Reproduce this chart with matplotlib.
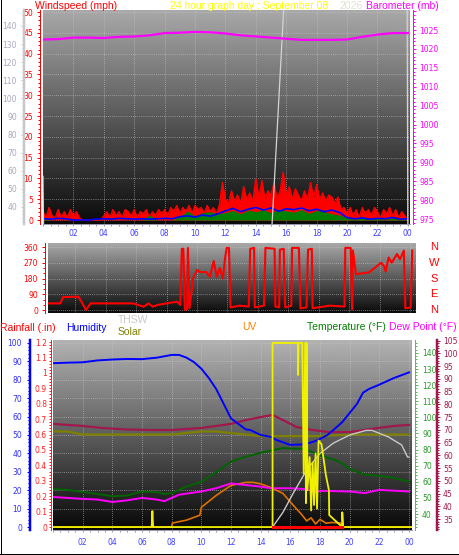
import numpy as np
import matplotlib
matplotlib.use("Agg")
import matplotlib.pyplot as plt
from matplotlib.lines import Line2D

# ---- data ------------------------------------------------------------------

hour_ticks = [2, 4, 6, 8, 10, 12, 14, 16, 18, 20, 22, 24]
hour_labels = ["02", "04", "06", "08", "10", "12", "14", "16", "18", "20", "22", "00"]

# windspeed (mph), one sample every 0.2 h
wind_hi = [2, 0.5, 3, 1, 0.5, 2.5, 0.5, 2, 0.5, 2.5, 1, 2, 0.5,
           0, 0, 0, 0, 0, 0, 0,
           1, 2, 0.5, 2.5, 1, 2, 0.5, 2.5, 2, 1, 2.5, 0.5, 2, 1.5, 2.5, 0.5, 2, 1, 2.5, 1.5,
           2.5, 1, 3, 2, 3.5, 1.5, 3, 2, 3.5, 1.5, 3.5, 2.5, 3, 1.5, 3.5, 2, 3, 1.5, 3.5, 9,
           5, 4, 7, 4.5, 6, 4, 8, 5, 6.5, 4.5, 10, 5.5, 9.5, 5, 7, 6, 9, 5, 7, 11.5,
           6, 8, 5, 7.5, 6, 4.5, 7, 5, 9, 5.5, 8.5, 5, 6.5, 4.5, 6, 5.5, 4, 5.5,
           2.5, 3, 1.5, 3, 1, 2.5, 0.5, 3, 1.5, 2.5, 1, 3, 2, 0.5, 2.5, 1.5, 3, 1, 2.5, 0.5, 2, 1, 0]
# average wind and the green band, one sample every 0.5 h
wind_avg = [0.3, 0.2, 0.4, 0.3, 0, 0, 0, 0.2, 0.3, 0.2, 0.4, 0.3, 0.2, 0.3, 0.2, 0.3, 0.4, 0.3,
            0.8, 1.0, 0.7, 1.2, 0.9, 1.5,
            2.2, 2.8, 2.0, 2.6, 3.0, 2.4, 2.9, 2.1, 2.7, 2.5, 2.9, 2.2, 2.6, 2.0, 2.4, 1.8,
            0.6, 0.3, 0.5, 0.2, 0.4, 0.3, 0.6, 0.2, 0.3]
wind_low = [0.3, 0, 0, 0, 0, 0, 0, 0, 0, 0, 0, 0, 0, 0, 1.2, 0, 0, 0,
            0.8, 2.2, 1.0, 1.8, 2.0, 1.5,
            1.8, 2.3, 1.5, 2.4, 2.0, 2.5, 1.7, 2.6, 2.2, 1.9, 2.5, 1.6, 2.3, 2.0, 1.5, 1.2,
            0.5, 0.2, 0.6, 0.3, 0.4, 0.2, 0.5, 0.3, 0.2]

# light grey trace on the outer left scale
grey_t = [0, 0.05, 15.0, 15.9, 23.95, 24.0]
grey_v = [57, 20, 20, 160, 160, 20]

# barometer (mb), hourly
baro = [1022.5, 1022.6, 1023.0, 1023.0, 1022.9, 1023.2, 1023.3, 1023.6, 1024.2, 1024.3,
        1024.5, 1024.4, 1024.1, 1023.6, 1023.3, 1023.0, 1022.7, 1022.4, 1022.4, 1022.4,
        1022.5, 1023.2, 1023.8, 1024.2, 1024.2]
baro_ticks = [975, 980, 985, 990, 995, 1000, 1005, 1010, 1015, 1020, 1025, 1030]
baro_labels = ["975", "980", "985", "990", "995", "1000", "1005", "1010", "1015", "1020",
               "1025", ""]

# wind direction (degrees)
dir_t = [0.2, 1.0, 1.2, 2.2, 2.4, 2.7, 3.0, 5.8, 6.5, 6.8, 7.1, 7.4, 8.0, 8.7, 8.9, 9.0, 9.1,
         9.2, 9.35, 9.4, 9.5, 9.75, 10.0, 10.2, 10.6, 10.85, 11.1, 11.3, 11.5, 11.7, 11.85,
         11.95, 12.1, 12.2, 12.8, 13.4, 13.5, 13.75, 13.8, 14.4, 14.5, 15.1, 15.15, 15.4,
         15.45, 15.7, 15.8, 16.2, 16.25, 16.7, 16.8, 17.2, 17.3, 17.55, 17.6, 18.7, 19.7,
         19.75, 20.1, 20.2, 20.25, 20.45, 21.3, 21.75, 22.1, 22.3, 22.4, 22.6, 22.8, 23.15,
         23.35, 23.6, 23.7, 24.05, 24.15]
dir_v = [38, 38, 74, 76, 48, 0, 38, 38, 19, 38, 19, 29, 38, 48, 29, 350, 350,
         0, 5, 355, 10, 183, 229, 217, 217, 190, 280, 190, 240, 180, 300,
         355, 355, 15, 25, 20, 350, 355, 15, 25, 355, 350, 20, 15,
         345, 350, 15, 25, 355, 355, 10, 15, 345, 350, 10, 25, 20,
         355, 355, 5, 340, 205, 215, 245, 270, 250, 220, 300, 270, 320,
         290, 340, 10, 15, 340]

# humidity (%)
hum_t = [0, 1, 2, 3, 4, 5, 6, 7, 8, 8.5, 9, 9.5, 10, 10.5, 11, 11.5, 12, 13, 13.3, 14, 14.7,
         15, 16, 17, 17.8, 18.5, 18.9, 19.5, 20, 20.5, 20.9, 21.3, 21.9, 23, 24]
hum_v = [89, 89.3, 89.5, 90.5, 91, 91.3, 91.2, 92, 93.5, 93.5, 92, 89.6, 86, 81, 75, 67, 59,
         53, 52.7, 50, 49, 47.5, 44.6, 45, 47, 50, 52.7, 57, 62, 67, 73, 75, 77, 81, 84]

# unlabelled yellow trace (humidity scale)
rad_t = [0, 6.65, 6.7, 6.75, 14.8, 14.8, 16.5, 16.52, 16.55, 16.8, 16.9, 17.0, 17.05, 17.1,
         17.15, 17.3, 17.4, 17.5, 17.6, 17.7, 17.8, 17.9, 18.1, 18.4, 18.6, 18.62, 19.5,
         19.5, 19.55, 24.2]
rad_v = [0, 0, 8.7, 0, 0, 100, 100, 82.6, 100, 100, 29, 100, 13, 100, 20, 38, 9, 35, 12, 40,
         10, 47, 45, 28, 20, 6.5, 0, 8, 0, 0]

# THSW (humidity scale)
thsw_t = [14.8, 15.5, 16.2, 17.1, 18.0, 18.9, 20.0, 21.1, 21.5, 22.6, 23.5, 23.9, 24.0]
thsw_v = [0, 8, 18.5, 31, 40, 45.6, 50, 52.5, 52.5, 49, 44.6, 38, 38]

# temperature and dew point (deg F, green scale)
temp_t = [0, 1, 2, 3, 4, 5, 6, 7, 7.5, 8, 9, 10, 11, 12, 13, 14, 15, 15.5, 16, 17, 17.6, 18,
          19, 19.4, 20, 20.7, 21, 22, 23, 24]
temp_v = [55.6, 55, 53.7, 52.5, 51, 51.5, 54, 53.5, 52.5, 53, 57, 60, 66, 72.5, 75.6, 78, 80,
          81, 80.6, 80.5, 78, 76.5, 73.5, 72, 68, 65.6, 64.5, 63.7, 62.5, 60]
dew_t = [0, 2, 3, 4, 5, 6, 7, 7.5, 8.5, 10, 11, 12, 13, 14, 14.7, 16, 17, 17.8, 18, 20, 21,
         22, 23, 24]
dew_v = [50.6, 49.4, 49, 47.5, 48.5, 50, 49, 48, 52, 54, 56, 59, 58, 57, 56, 56, 55.5, 53.7,
         54.4, 54, 53, 55, 54.5, 54]

# maroon trace (outer right scale)
heat_t = [0, 1, 2, 3.3, 5, 6.7, 8, 10, 12, 13, 14, 14.8, 15.5, 16.4, 17.5, 18.6, 20, 21,
          21.9, 23, 24]
heat_v = [72.3, 71.9, 71.5, 70.7, 70.1, 69.9, 69.9, 70.7, 72.3, 73.8, 75.0, 75.8, 73.8,
          71.1, 69.9, 69.1, 69.1, 69.9, 70.7, 71.5, 71.9]

# solar (olive) and UV (orange), rainfall scale
solar_t = [0, 1, 2, 4, 6, 8, 9, 10, 11, 12, 14, 16, 18, 20, 22, 24]
solar_v = [0.62, 0.62, 0.60, 0.60, 0.60, 0.60, 0.61, 0.62, 0.62, 0.61, 0.59, 0.59, 0.59,
           0.60, 0.60, 0.60]
uv_t = [8, 8.05, 9, 9.9, 10, 11, 12, 13, 13.5, 14, 14.7, 15.5, 16.2, 16.8, 17.1, 17.4, 17.7,
        18, 18.4, 18.8, 19.4, 19.5]
uv_v = [0, 0.026, 0.045, 0.077, 0.128, 0.205, 0.27, 0.29, 0.29, 0.28, 0.256, 0.218, 0.141,
        0.077, 0.04, 0.06, 0.02, 0.05, 0.025, 0.03, 0.026, 0]
rain_t = [14.8, 19.5]
rain_v = [0, 0]

# ---- layout helpers ---------------------------------------------------------

W, H = 459, 555
PT = 0.72  # one pixel in points at 100 dpi


def box(l, t, r, b):
    return [l / W, 1 - b / H, (r - l) / W, (b - t) / H]


def backdrop(ax, top, bottom):
    shade = np.linspace(top, bottom, 200).reshape(-1, 1)
    ax.imshow(shade, cmap="gray", vmin=0, vmax=1, aspect="auto",
              extent=[0, 1, 0, 1], transform=ax.transAxes, zorder=0)


def strip(ax):
    for s in ax.spines.values():
        s.set_visible(False)
    ax.tick_params(which="both", left=False, right=False, top=False, bottom=False,
                   labelleft=False, labelright=False, labelbottom=False, labeltop=False)


def yscale(ax, side, offset, color, lw, major, minor, labels=None, labelcolor=None,
           pad=3, tick=3):
    ax.yaxis.set_ticks_position(side)
    sp = ax.spines[side]
    sp.set_visible(True)
    sp.set_position(("outward", offset * PT))
    sp.set_color(color)
    sp.set_linewidth(lw * PT)
    ax.set_yticks(major)
    ax.set_yticks(minor, minor=True)
    if labels is not None:
        ax.set_yticklabels(labels)
    on = {side: True, "label" + side: True}
    ax.tick_params(axis="y", which="major", color=color, labelcolor=labelcolor or color,
                   length=tick * PT, width=PT, labelsize=5.5, pad=pad * PT, **on)
    ax.tick_params(axis="y", which="minor", color=color, length=2 * PT, width=PT,
                   **{side: True})


def xscale(ax, pad, labels=True):
    ax.set_xticks(hour_ticks)
    ax.set_xticks(np.arange(0, 24.5, 0.5), minor=True)
    sp = ax.spines["bottom"]
    sp.set_visible(True)
    sp.set_color("#9a9ab0")
    sp.set_linewidth(PT)
    if labels:
        ax.set_xticklabels(hour_labels)
    ax.tick_params(axis="x", which="major", bottom=True, labelbottom=labels,
                   color="#9a9ab0", labelcolor="#4040ff", length=2 * PT, width=PT,
                   labelsize=5.5, pad=pad * PT)
    ax.tick_params(axis="x", which="minor", bottom=True, color="#9a9ab0",
                   length=1.5 * PT, width=PT)


def gridlines(ax):
    ax.grid(True, which="major", color="#c8c8c8", ls=(0, (1, 1.5)), lw=0.6, alpha=0.7)


fig = plt.figure(figsize=(W / 100, H / 100), dpi=100, facecolor="white")

# ---- top panel: wind speed, barometer ---------------------------------------
ax1 = fig.add_axes(box(43, 10, 410, 224))
strip(ax1)
backdrop(ax1, 0.66, 0.04)
wind_t = np.arange(len(wind_hi)) * 0.2
half_t = np.arange(len(wind_avg)) * 0.5
ax1.fill_between(wind_t, 0, wind_hi, color="#ff0000", lw=0, zorder=2)
ax1.plot(wind_t, wind_hi, color="#ff0000", lw=1.0, zorder=2)
ax1.fill_between(half_t, 0, wind_low, color="#008000", lw=0, zorder=3)
ax1.plot(half_t, wind_avg, color="#0000ff", lw=1.2, zorder=4)
ax1.set_xlim(0, 24.14)
ax1.set_ylim(-0.96, 50.5)
yscale(ax1, "left", 3, "#ff0000", 1, np.arange(0, 51, 5), np.arange(0, 51, 1), pad=4)
xscale(ax1, 3)
gridlines(ax1)

ax1g = ax1.twinx()
strip(ax1g)
ax1g.plot(grey_t, grey_v, color="#d4d4d4", lw=0.9)
ax1g.set_ylim(30.6, 148.8)
yscale(ax1g, "left", 19.5, "#c8c8c8", 2.5, np.arange(40, 141, 10), np.arange(32, 149, 2),
       labelcolor="#a8a8c0", pad=3.5)

ax1b = ax1.twinx()
strip(ax1b)
ax1b.plot(np.arange(len(baro)), baro, color="#ff00ff", lw=1.6)
ax1b.set_ylim(973.7, 1030.3)
yscale(ax1b, "right", 3, "#ff00ff", 1, baro_ticks, np.arange(974, 1031, 1),
       labels=baro_labels, pad=3)

# ---- middle panel: wind direction -------------------------------------------
ax2 = fig.add_axes(box(48, 243, 416, 313))
strip(ax2)
backdrop(ax2, 0.66, 0.04)
ax2.plot(dir_t, dir_v, color="#ff0000", lw=1.5, zorder=3)
ax2.set_xlim(0.2, 24.4)
ax2.set_ylim(-17, 383)
yscale(ax2, "left", 3, "#ff0000", 1, [0, 90, 180, 270, 360], np.arange(0, 361, 30), pad=4)
ax2.set_xticks(hour_ticks)
gridlines(ax2)
for deg, letter in zip([360, 270, 180, 90, 0], ["N", "W", "S", "E", "N"]):
    ax2.text(1 + 18 / 368, deg, letter, transform=ax2.get_yaxis_transform(), color="#ff0000",
             fontsize=8, ha="center", va="center", family="Liberation Sans", clip_on=False)

# ---- bottom panel -----------------------------------------------------------
ax3 = fig.add_axes(box(53, 340, 412, 530))
strip(ax3)
backdrop(ax3, 0.70, 0.03)
ax3.set_xlim(0.2, 24.2)
ax3.set_ylim(-1.6, 101.6)
yscale(ax3, "left", 23, "#0000ff", 2.5, np.arange(0, 101, 10), np.arange(0, 101, 2),
       labelcolor="#3030ff", pad=5)
xscale(ax3, 6)
gridlines(ax3)

ax3r = ax3.twinx()
strip(ax3r)
ax3r.plot(solar_t, solar_v, color="#808000", lw=1.6)
ax3r.plot([0.2] + uv_t + [24.2], [0] + uv_v + [0], color="#e07000", lw=1.2)
ax3r.set_ylim(-0.019, 1.213)
yscale(ax3r, "left", 2, "#ff2020", 1, np.arange(0, 1.21, 0.1), np.arange(0, 1.21, 0.02),
       labels=["0", "0.1", "0.2", "0.3", "0.4", "0.5", "0.6", "0.7", "0.8", "0.9", "1",
               "1.1", "1.2"], pad=2, tick=2)

ax3t = ax3.twinx()
strip(ax3t)
ax3t.plot(temp_t, temp_v, color="#006400", lw=1.4)
ax3t.plot(dew_t, dew_v, color="#ff00ff", lw=1.4)
ax3t.set_ylim(30.1, 148)
yscale(ax3t, "right", 3, "#5cb85c", 1, np.arange(40, 141, 10), np.arange(32, 148, 2),
       labelcolor="#2a9a2a", pad=4)

ax3d = ax3.twinx()
strip(ax3d)
ax3d.plot(heat_t, heat_v, color="#a0184c", lw=1.6)
ax3d.set_ylim(30.7, 105.2)
yscale(ax3d, "right", 25, "#a0184c", 2.5, np.arange(35, 106, 5), np.arange(31, 106, 1),
       pad=3)

ax3o = ax3.twinx()
strip(ax3o)
ax3o.set_ylim(ax3.get_ylim())
ax3o.plot(thsw_t, thsw_v, color="#c8c8c8", lw=1.0)
ax3o.plot(hum_t, hum_v, color="#0000ff", lw=1.4)
ax3o.plot(rad_t, rad_v, color="#f0f000", lw=1.3)
ax3o.plot(rain_t, rain_v, color="#ff0000", lw=2.2)

# ---- titles and legends -----------------------------------------------------
def label(x, y, s, color):
    fig.text(x / W, 1 - y / H, s, color=color, fontsize=7.5, family="Liberation Sans",
             ha="left", va="baseline")


label(35, 9.3, "Windspeed (mph)", "#ff0000")
label(170, 9.3, "24 hour graph day : September 08", "#ffff00")
label(339, 9.3, "2026", "#e0e0d0")
label(366, 9.3, "Barometer (mb)", "#ff00ff")
label(0, 331, "Rainfall (.in)", "#ff0000")
label(66, 331, "Humidity", "#0000ff")
label(118, 323, "THSW", "#c8c8c8")
label(118, 335, "Solar", "#808000")
label(242, 330, "UV", "#ff8000")
label(307, 330, "Temperature (°F)", "#008000")
label(389, 330, "Dew Point (°F)", "#ff00ff")

# frame
for xs, ys in [([0.5, 0.5], [0, H]), ([W - 0.5, W - 0.5], [0, H]), ([0, W], [H - 1, H - 1])]:
    fig.add_artist(Line2D([x / W for x in xs], [1 - y / H for y in ys], color="black",
                          lw=PT, transform=fig.transFigure))

fig.savefig("out.png", dpi=100, facecolor="white")
